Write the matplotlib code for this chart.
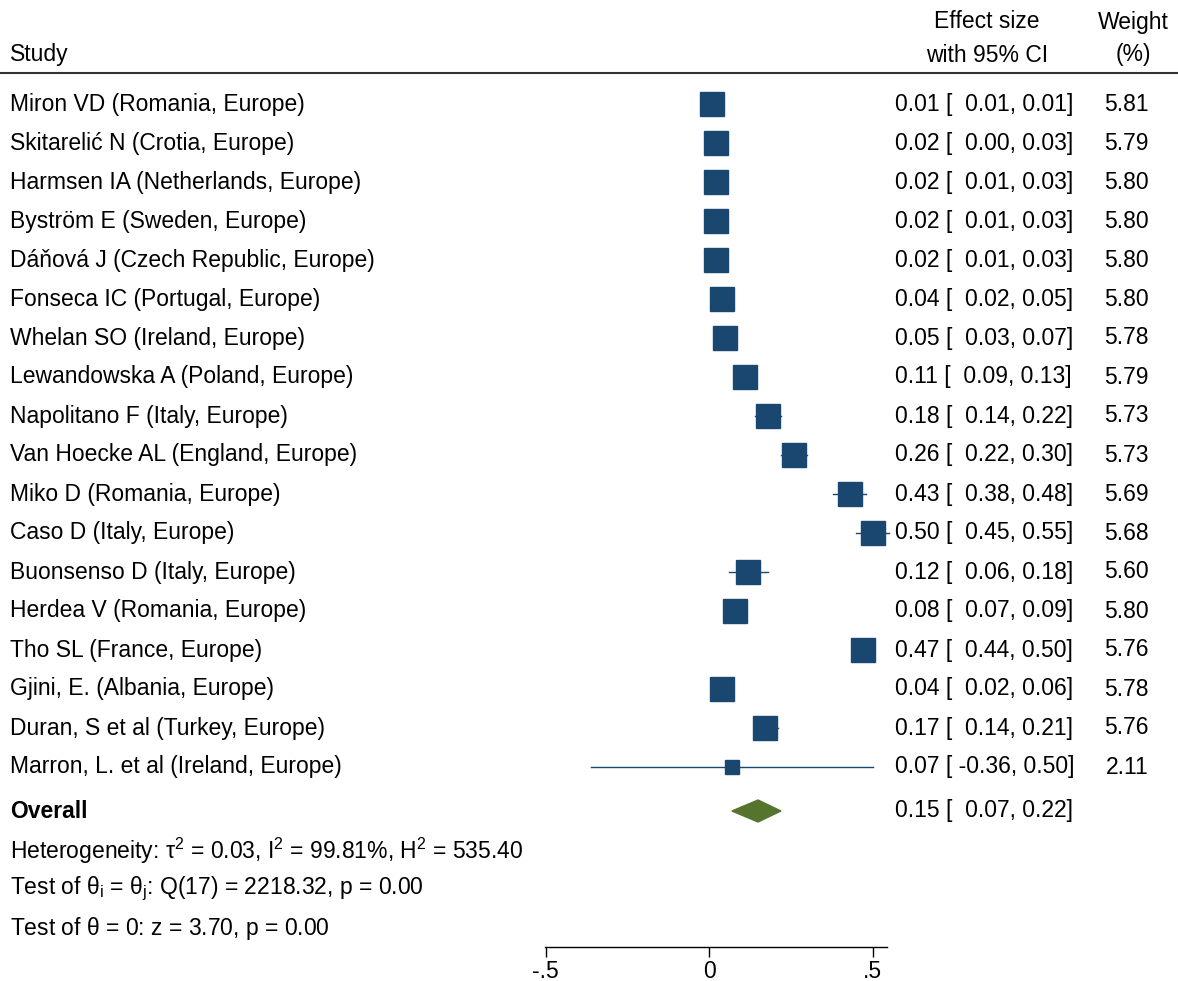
import numpy as np
import matplotlib
matplotlib.use("Agg")
import matplotlib.pyplot as plt
from matplotlib.patches import Polygon
from matplotlib.transforms import blended_transform_factory

plt.rcParams['font.family'] = ['Liberation Sans', 'DejaVu Sans']
plt.rcParams['mathtext.fontset'] = 'custom'
plt.rcParams['mathtext.rm'] = 'Liberation Sans'
plt.rcParams['mathtext.it'] = 'Liberation Sans:italic'

# Daten
studies = [
    "Miron VD (Romania, Europe)",
    "Skitarelić N (Crotia, Europe)",
    "Harmsen IA (Netherlands, Europe)",
    "Byström E (Sweden, Europe)",
    "Dáňová J (Czech Republic, Europe)",
    "Fonseca IC (Portugal, Europe)",
    "Whelan SO (Ireland, Europe)",
    "Lewandowska A (Poland, Europe)",
    "Napolitano F (Italy, Europe)",
    "Van Hoecke AL (England, Europe)",
    "Miko D (Romania, Europe)",
    "Caso D (Italy, Europe)",
    "Buonsenso D (Italy, Europe)",
    "Herdea V (Romania, Europe)",
    "Tho SL (France, Europe)",
    "Gjini, E. (Albania, Europe)",
    "Duran, S et al (Turkey, Europe)",
    "Marron, L. et al (Ireland, Europe)",
]
es = [0.01, 0.02, 0.02, 0.02, 0.02, 0.04, 0.05, 0.11, 0.18, 0.26,
      0.43, 0.50, 0.12, 0.08, 0.47, 0.04, 0.17, 0.07]
lo = [0.01, 0.00, 0.01, 0.01, 0.01, 0.02, 0.03, 0.09, 0.14, 0.22,
      0.38, 0.45, 0.06, 0.07, 0.44, 0.02, 0.14, -0.36]
hi = [0.01, 0.03, 0.03, 0.03, 0.03, 0.05, 0.07, 0.13, 0.22, 0.30,
      0.48, 0.55, 0.18, 0.09, 0.50, 0.06, 0.21, 0.50]
weights = [5.81, 5.79, 5.80, 5.80, 5.80, 5.80, 5.78, 5.79, 5.73, 5.73,
           5.69, 5.68, 5.60, 5.80, 5.76, 5.78, 5.76, 2.11]
overall = (0.15, 0.07, 0.22)

navy = '#1a476f'
green = '#55752f'

W, H = 1178, 981
fig = plt.figure(figsize=(W / 100, H / 100), dpi=100)

# Achse: Pixel 545..887 horizontal, Linie bei y=947
ax_top, ax_bot = 80, 947
ax = fig.add_axes([545 / W, 1 - ax_bot / H, (887 - 545) / W, (ax_bot - ax_top) / H])
x0, scale = 709, 327.0
ax.set_xlim((545 - x0) / scale, (887 - x0) / scale)
row0, step = 104, 39.0
ytop = (ax_top - row0) / step
ybot = (ax_bot - row0) / step
ax.set_ylim(ybot, ytop)

fs = 16.5

for s in ['left', 'right', 'top']:
    ax.spines[s].set_visible(False)
ax.spines['bottom'].set_linewidth(1.0)
ax.set_yticks([])
ax.set_xticks([-0.5, 0, 0.5])
ax.set_xticklabels(['-.5', '0', '.5'])
ax.tick_params(axis='x', labelsize=fs, length=7, width=1.0, pad=2)

rows = np.arange(len(studies))
ms_ref = 17.6 / np.sqrt(5.81)
for i in rows:
    ax.plot([lo[i], hi[i]], [i, i], color=navy, lw=1.0, clip_on=False, zorder=2)
    ax.plot(es[i], i, marker='s', ms=ms_ref * np.sqrt(weights[i]), color=navy,
            mec=navy, clip_on=False, zorder=3)

yo = (811 - row0) / step
dh = 11 / step
diamond = Polygon([[overall[1], yo], [overall[0], yo - dh], [overall[2], yo], [overall[0], yo + dh]],
                  closed=True, facecolor=green, edgecolor=green, clip_on=False, zorder=3)
ax.add_patch(diamond)

# Texte
tr = blended_transform_factory(fig.transFigure, ax.transData)


def fx(px):
    return px / W


for i in rows:
    ax.text(fx(10), i, studies[i], transform=tr, fontsize=fs, va='center', ha='left')
    ci = f"{es[i]:.2f} [{lo[i]:5.2f}, {hi[i]:.2f}]".replace("[ ", "[  ").replace("[-", "[ -")
    ax.text(fx(895), i, ci, transform=tr, fontsize=fs, va='center', ha='left')
    ax.text(fx(1149), i, f"{weights[i]:.2f}", transform=tr, fontsize=fs, va='center', ha='right')

ax.text(fx(10), yo, "Overall", transform=tr, fontsize=fs, fontweight='bold', va='center', ha='left')
ax.text(fx(895), yo, f"{overall[0]:.2f} [  {overall[1]:.2f}, {overall[2]:.2f}]", transform=tr,
        fontsize=fs, va='center', ha='left')

notes = [
    (851, r"Heterogeneity: $\mathregular{\tau^2}$ = 0.03, $\mathregular{I^2}$ = 99.81%, $\mathregular{H^2}$ = 535.40"),
    (889, r"Test of $\mathregular{\theta_i}$ = $\mathregular{\theta_j}$: Q(17) = 2218.32, p = 0.00"),
    (928, r"Test of $\mathregular{\theta}$ = 0: z = 3.70, p = 0.00"),
]
for py, t in notes:
    fig.text(fx(10), 1 - py / H, t, fontsize=fs, va='center', ha='left')

# Kopfzeile
fig.text(fx(10), 1 - 55 / H, "Study", fontsize=fs, va='center', ha='left')
fig.text(fx(987), 1 - 22 / H, "Effect size", fontsize=fs, va='center', ha='center')
fig.text(fx(987), 1 - 55 / H, "with 95% CI", fontsize=fs, va='center', ha='center')
fig.text(fx(1133), 1 - 22 / H, "Weight", fontsize=fs, va='center', ha='center')
fig.text(fx(1133), 1 - 55 / H, "(%)", fontsize=fs, va='center', ha='center')
fig.add_artist(plt.Line2D([0, 1], [1 - 73 / H, 1 - 73 / H], color='#333333', lw=1.5))

fig.savefig("out.png", dpi=100, facecolor='white')
